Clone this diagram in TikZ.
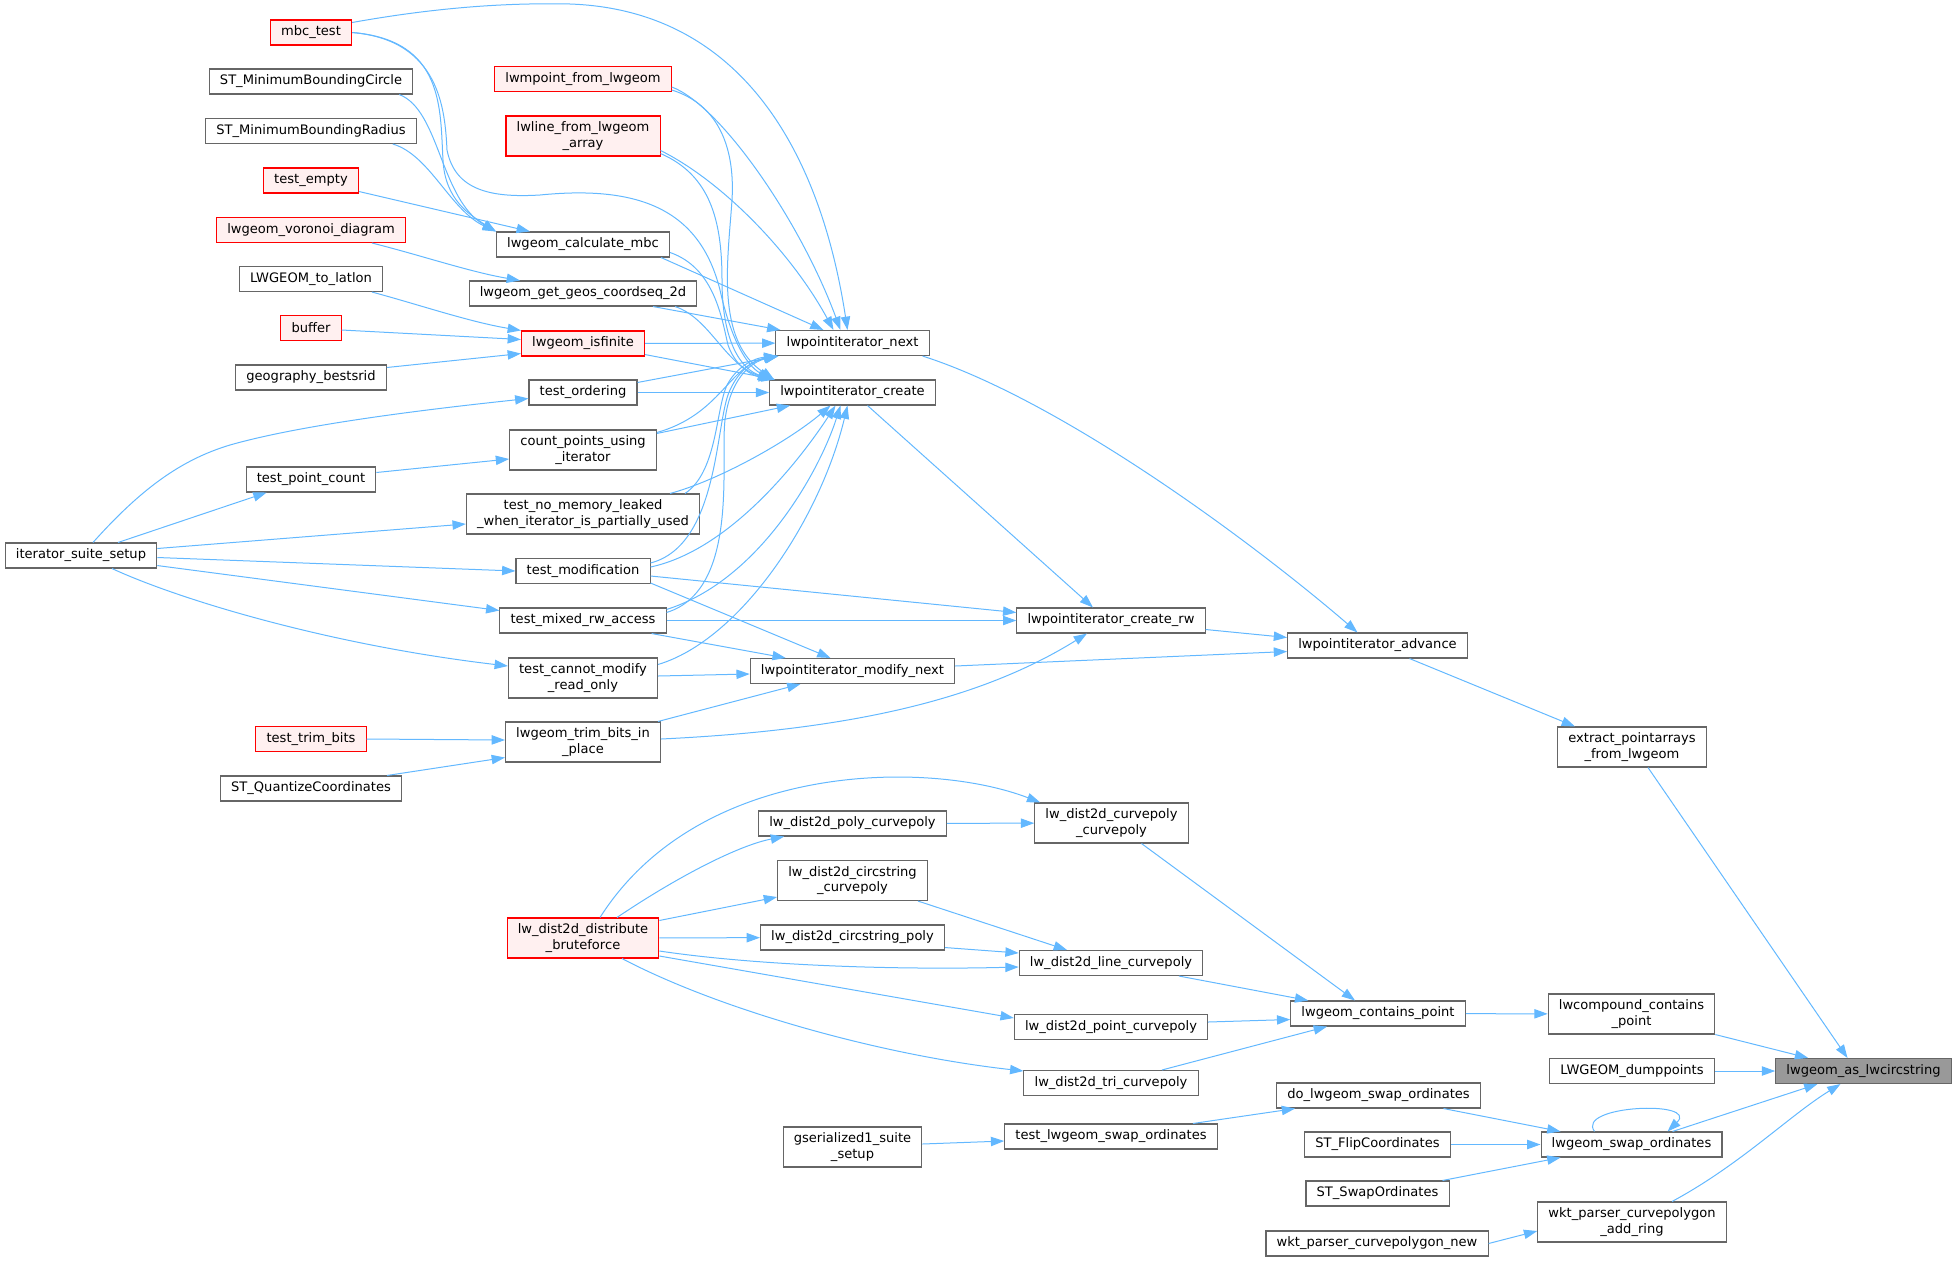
\documentclass[tikz,border=0pt]{standalone}
\usepackage{fontspec}
\setmainfont{DejaVu Sans}
\usepackage{tikz}
\usetikzlibrary{arrows.meta, calc}
\definecolor{edgeblue}{HTML}{63B8FF}
\definecolor{boxgray}{HTML}{666666}
\definecolor{redfill}{HTML}{FFF0F0}
\definecolor{focusfill}{HTML}{999999}

\begin{document}
\begin{tikzpicture}[x=0.75pt, y=-0.75pt,
  box/.style={draw=boxgray, fill=white, line width=0.8pt, minimum height=18.75pt, align=center,
              font=\fontsize{9.8}{11.4}\selectfont, inner xsep=8pt, inner ysep=1.5pt},
  redbox/.style={box, draw=red, fill=redfill},
  focus/.style={box, fill=focusfill},
  two/.style={minimum height=30pt},
  arr/.style={-{Triangle[length=10pt,width=7pt]}, draw=edgeblue, line width=0.75pt}]
  \useasboundingbox (0,0) rectangle (1959,1261);
  % test suite
  \node[box] (setup) at (81,555.5) {iterator\_suite\_setup};
  % outer callers
  \node[redbox] (mbc) at (311,32.5) {mbc\_test};
  \node[box] (stcircle) at (311,81.5) {ST\_MinimumBoundingCircle};
  \node[box] (stradius) at (311,131) {ST\_MinimumBoundingRadius};
  \node[redbox] (tempty) at (311,180.5) {test\_empty};
  \node[redbox] (voronoi) at (311,230) {lwgeom\_voronoi\_diagram};
  \node[box] (latlon) at (311,279) {LWGEOM\_to\_latlon};
  \node[redbox] (buffer) at (311,328) {buffer};
  \node[box] (bestsrid) at (311,377.5) {geography\_bestsrid};
  \node[box] (ptcount) at (311,479.5) {test\_point\_count};
  \node[redbox] (trimtest) at (311,739) {test\_trim\_bits};
  \node[box] (quantize) at (311,788.5) {ST\_QuantizeCoordinates};
  % iterator users
  \node[redbox] (mpoint) at (583,79) {lwmpoint\_from\_lwgeom};
  \node[redbox, two] (lwline) at (583,136) {lwline\_from\_lwgeom\\\_array};
  \node[box] (calcmbc) at (583,244.5) {lwgeom\_calculate\_mbc};
  \node[box] (geos) at (583,293.5) {lwgeom\_get\_geos\_coordseq\_2d};
  \node[redbox] (isfinite) at (583,343.5) {lwgeom\_isfinite};
  \node[box] (ordering) at (583,392.5) {test\_ordering};
  \node[box, two] (countpts) at (583,450) {count\_points\_using\\\_iterator};
  \node[box, two] (nomem) at (583,514) {test\_no\_memory\_leaked\\\_when\_iterator\_is\_partially\_used};
  \node[box] (modif) at (583,571) {test\_modification};
  \node[box] (mixed) at (583,620.5) {test\_mixed\_rw\_access};
  \node[box, two] (readonly) at (583,678) {test\_cannot\_modify\\\_read\_only};
  \node[box, two] (trimbits) at (583,742) {lwgeom\_trim\_bits\_in\\\_place};
  \node[redbox, two] (brute) at (583,938) {lw\_dist2d\_distribute\\\_bruteforce};
  % iterator api, dist2d
  \node[box] (next) at (852.5,343) {lwpointiterator\_next};
  \node[box] (create) at (852.5,392.5) {lwpointiterator\_create};
  \node[box] (modnext) at (852.5,671) {lwpointiterator\_modify\_next};
  \node[box] (polycp) at (852.5,823.5) {lw\_dist2d\_poly\_curvepoly};
  \node[box, two] (cscp) at (852.5,880.5) {lw\_dist2d\_circstring\\\_curvepoly};
  \node[box] (cspoly) at (852.5,937.5) {lw\_dist2d\_circstring\_poly};
  \node[box, two] (gser) at (852.5,1147) {gserialized1\_suite\\\_setup};
  \node[box] (createrw) at (1111,620.5) {lwpointiterator\_create\_rw};
  \node[box, two] (cpcp) at (1111.5,823) {lw\_dist2d\_curvepoly\\\_curvepoly};
  \node[box] (linecp) at (1111,963) {lw\_dist2d\_line\_curvepoly};
  \node[box] (pointcp) at (1111,1027) {lw\_dist2d\_point\_curvepoly};
  \node[box] (tricp) at (1111,1083) {lw\_dist2d\_tri\_curvepoly};
  \node[box] (tswap) at (1111,1136.5) {test\_lwgeom\_swap\_ordinates};
  \node[box] (advance) at (1377.5,645.5) {lwpointiterator\_advance};
  \node[box] (contains) at (1378,1013.5) {lwgeom\_contains\_point};
  \node[box] (doswap) at (1378.5,1095.5) {do\_lwgeom\_swap\_ordinates};
  \node[box] (flip) at (1377.5,1144.5) {ST\_FlipCoordinates};
  \node[box] (swapord) at (1377.5,1193.5) {ST\_SwapOrdinates};
  \node[box] (wktnew) at (1377,1243.5) {wkt\_parser\_curvepolygon\_new};
  \node[box, two] (extract) at (1632,747) {extract\_pointarrays\\\_from\_lwgeom};
  \node[box, two] (compound) at (1631.5,1014) {lwcompound\_contains\\\_point};
  \node[box] (dump) at (1632,1071) {LWGEOM\_dumppoints};
  \node[box] (swap) at (1631.5,1144.5) {lwgeom\_swap\_ordinates};
  \node[box, two] (addring) at (1632,1222) {wkt\_parser\_curvepolygon\\\_add\_ring};
  \node[focus] (target) at (1863.5,1071) {lwgeom\_as\_lwcircstring};

  % into the target
  \draw[arr] ($(extract.south)+(16,0)$) -- ($(target.north)+(-16,0)$);
  \draw[arr] (compound.south east) -- ($(target.north west)+(33,0)$);
  \draw[arr] (dump) -- (target);
  \draw[arr] ($(swap.north)+(41,0)$) -- ($(target.south)+(-46,0)$);
  \draw[arr] ($(addring.north)+(40,0)$) .. controls (1740,1165) and (1790,1115) .. ($(target.south)+(-23,0)$);
  \draw[arr] ($(swap.north)+(-37,0)$) .. controls (1575,1105) and (1700,1100) .. ($(swap.north)+(36,0)$);
  \draw[arr] ($(advance.south)+(32,0)$) -- ($(extract.north)+(-57,0)$);
  \draw[arr] (contains) -- (compound);
  \draw[arr] ($(doswap.south)+(65,0)$) -- ($(swap.north west)+(20,0)$);
  \draw[arr] (flip) -- (swap);
  \draw[arr] ($(swapord.north)+(65,0)$) -- ($(swap.south west)+(20,0)$);
  \draw[arr] (wktnew.east) -- ($(addring.west)+(0,9)$);
  % advance, contains, swap
  \draw[arr] ($(next.south east)+(-7,0)$) .. controls (1060,400) and (1250,540) .. ($(advance.north)+(-20,0)$);
  \draw[arr] ($(createrw.east)+(0,9)$) -- ($(advance.west)+(0,-8)$);
  \draw[arr] ($(modnext.east)+(0,-5)$) -- ($(advance.west)+(0,6)$);
  \draw[arr] ($(cpcp.south)+(30,0)$) -- ($(contains.north)+(-23,0)$);
  \draw[arr] ($(linecp.south)+(68,0)$) -- ($(contains.north west)+(18,0)$);
  \draw[arr] ($(pointcp.east)+(0,-5)$) -- ($(contains.west)+(0,6)$);
  \draw[arr] ($(tricp.north)+(51,0)$) -- ($(contains.south)+(-51,0)$);
  \draw[arr] ($(tswap.north)+(82,0)$) -- ($(doswap.south west)+(19,0)$);
  % create_rw, modify_next
  \draw[arr] ($(create.south)+(15,0)$) -- ($(createrw.north)+(-18,0)$);
  \draw[arr] ($(modif.east)+(0,5)$) -- ($(createrw.west)+(0,-8)$);
  \draw[arr] (mixed) -- (createrw);
  \draw[arr] ($(trimbits.east)+(0,-3)$) .. controls (850,730) and (980,700) .. ($(createrw.south)+(-24,0)$);
  \draw[arr] ($(modif.south east)+(0,-1)$) -- ($(modnext.north)+(-22,0)$);
  \draw[arr] ($(mixed.south east)+(-15,0)$) -- ($(modnext.north west)+(36,0)$);
  \draw[arr] ($(readonly.east)+(0,-2)$) -- ($(modnext.west)+(0,3)$);
  \draw[arr] ($(trimbits.north east)+(-3,0)$) -- ($(modnext.south)+(-52,0)$);
  % dist2d
  \draw[arr] (polycp) -- (cpcp);
  \draw[arr] ($(brute.north)+(17,0)$) .. controls (700,760) and (930,760) .. ($(cpcp.north west)+(6,0)$);
  \draw[arr] ($(cscp.south east)+(-10,0)$) -- ($(linecp.north)+(-44,0)$);
  \draw[arr] ($(cspoly.south east)+(0,-3)$) -- ($(linecp.west)+(0,-10)$);
  \draw[arr] ($(brute.north)+(34,0)$) .. controls (680,875) and (740,845) .. ($(polycp.south west)+(26,0)$);
  \draw[arr] ($(brute.north east)+(0,3)$) -- ($(cscp.south west)+(0,-4)$);
  \draw[arr] (brute) -- (cspoly);
  \draw[arr] ($(brute.east)+(0,13)$) .. controls (760,966) and (900,970) .. ($(linecp.west)+(0,4)$);
  \draw[arr] ($(brute.east)+(0,18)$) -- ($(pointcp.west)+(0,-9)$);
  \draw[arr] ($(brute.south)+(39,0)$) .. controls (720,1010) and (880,1055) .. ($(tricp.west)+(0,-12)$);
  \draw[arr] ($(gser.east)+(0,-3)$) -- ($(tswap.west)+(0,4.5)$);
  % into lwpointiterator_next
  \draw[arr] ($(mbc.east)+(0,-10)$) .. controls (450,5) and (520,3) .. (570,4) .. controls (740,10) and (820,150) .. ($(next.north)+(-5,0)$);
  \draw[arr] ($(mpoint.east)+(0,8)$) .. controls (720,105) and (800,220) .. ($(next.north)+(-12,0)$);
  \draw[arr] ($(lwline.south east)+(0,-6)$) .. controls (720,180) and (790,250) .. ($(next.north)+(-19,0)$);
  \draw[arr] ($(calcmbc.south east)+(-9,0)$) -- ($(next.north)+(-29,0)$);
  \draw[arr] ($(geos.south)+(70,0)$) -- ($(next.north west)+(5,0)$);
  \draw[arr] (isfinite) -- (next);
  \draw[arr] ($(ordering.north east)+(0,3)$) -- ($(next.south west)+(3,0)$);
  \draw[arr] ($(countpts.north east)+(0,3)$) .. controls (720,415) and (730,365) .. ($(next.south west)+(2,0)$);
  \draw[arr] ($(nomem.north)+(102,0)$) .. controls (720,470) and (715,400) .. (730,380) .. controls (740,365) and (755,358) .. ($(next.south west)+(2,0)$);
  \draw[arr] ($(modif.north east)+(0,5)$) .. controls (720,545) and (715,420) .. (730,390) .. controls (740,368) and (755,360) .. ($(next.south west)+(2,0)$);
  \draw[arr] ($(mixed.north east)+(0,5)$) .. controls (740,590) and (720,460) .. (725,420) .. controls (730,380) and (750,362) .. ($(next.south west)+(3,0)$);
  % into lwpointiterator_create
  \draw[arr] (mbc.east) .. controls (440,40) and (445,110) .. (447,150) .. controls (455,190) and (490,198) .. (540,195) .. controls (640,185) and (700,210) .. (720,290) .. controls (730,335) and (745,365) .. ($(create.north west)+(3,0)$);
  \draw[arr] ($(mpoint.east)+(0,11)$) .. controls (720,105) and (735,150) .. (732,200) .. controls (728,260) and (715,340) .. ($(create.north west)+(5,0)$);
  \draw[arr] ($(lwline.south east)+(0,-3)$) .. controls (710,175) and (722,220) .. (722,280) .. controls (722,340) and (740,370) .. ($(create.north west)+(5,0)$);
  \draw[arr] ($(calcmbc.east)+(0,8)$) .. controls (715,268) and (722,320) .. (728,345) .. controls (735,365) and (750,375) .. ($(create.north west)+(3,0)$);
  \draw[arr] ($(geos.south)+(92,0)$) .. controls (710,318) and (725,365) .. ($(create.north west)+(2,0)$);
  \draw[arr] ($(isfinite.south east)+(0,-2)$) -- ($(create.north west)+(6,0)$);
  \draw[arr] (ordering) -- (create);
  \draw[arr] ($(countpts.north east)+(0,4)$) -- ($(create.south west)+(21,0)$);
  \draw[arr] ($(nomem.north)+(87,0)$) .. controls (720,480) and (790,440) .. ($(create.south)+(-22,0)$);
  \draw[arr] ($(modif.east)+(0,-4)$) .. controls (730,550) and (800,460) .. ($(create.south)+(-17,0)$);
  \draw[arr] ($(mixed.north east)+(0,2)$) .. controls (760,580) and (820,470) .. ($(create.south)+(-12,0)$);
  \draw[arr] ($(readonly.north east)+(0,7)$) .. controls (740,640) and (820,520) .. ($(create.south)+(-5,0)$);
  % outer callers
  \draw[arr] (mbc.east) .. controls (445,40) and (440,110) .. (443,160) .. controls (445,200) and (470,215) .. (calcmbc.north west);
  \draw[arr] ($(stcircle.south east)+(-14,0)$) .. controls (440,110) and (440,200) .. (calcmbc.north west);
  \draw[arr] ($(stradius.south east)+(-24,0)$) .. controls (430,155) and (450,210) .. (calcmbc.north west);
  \draw[arr] ($(tempty.east)+(0,11)$) -- ($(calcmbc.north west)+(34,0)$);
  \draw[arr] ($(voronoi.south)+(61,0)$) .. controls (420,255) and (470,272) .. ($(geos.north)+(-63,0)$);
  \draw[arr] ($(latlon.south)+(61,0)$) .. controls (420,305) and (470,322) .. (isfinite.north west);
  \draw[arr] ($(buffer.east)+(0,2)$) -- ($(isfinite.west)+(0,-4)$);
  \draw[arr] ($(bestsrid.east)+(0,-10)$) -- ($(isfinite.south west)+(0,-3)$);
  \draw[arr] ($(setup.north)+(12,0)$) .. controls (140,490) and (180,460) .. (230,445) .. controls (300,425) and (420,410) .. ($(ordering.west)+(0,6)$);
  \draw[arr] ($(setup.north)+(37,0)$) -- ($(ptcount.south west)+(21,0)$);
  \draw[arr] ($(setup.east)+(0,-7)$) -- ($(nomem.west)+(0,10)$);
  \draw[arr] ($(setup.east)+(0,2)$) -- (modif.west);
  \draw[arr] ($(setup.south east)+(0,-3)$) -- ($(mixed.west)+(0,-10)$);
  \draw[arr] ($(setup.south)+(31,0)$) .. controls (180,600) and (330,645) .. ($(readonly.west)+(0,-12)$);
  \draw[arr] ($(ptcount.east)+(0,-7)$) -- ($(countpts.west)+(0,9)$);
  \draw[arr] (trimtest.east) -- ($(trimbits.west)+(0,-2)$);
  \draw[arr] ($(quantize.north)+(76,0)$) -- ($(trimbits.south west)+(0,-5)$);
\end{tikzpicture}
\end{document}
